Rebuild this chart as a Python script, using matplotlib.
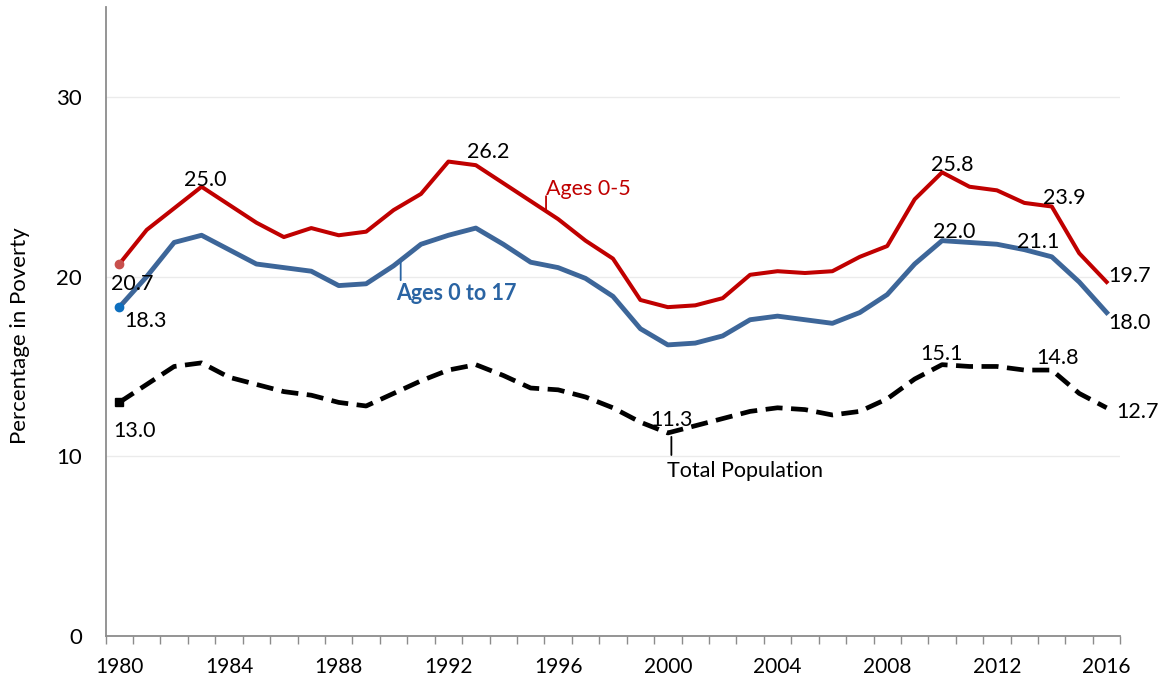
import numpy as np
import matplotlib.pyplot as plt

years = list(range(1980, 2017))
ages_0_5 = [20.7, 22.6, 23.8, 25.0, 24.0, 23.0, 22.2, 22.7, 22.3, 22.5,
            23.7, 24.6, 26.4, 26.2, 25.2, 24.2, 23.2, 22.0, 21.0, 18.7,
            18.3, 18.4, 18.8, 20.1, 20.3, 20.2, 20.3, 21.1, 21.7, 24.3,
            25.8, 25.0, 24.8, 24.1, 23.9, 21.3, 19.7]
ages_0_17 = [18.3, 20.0, 21.9, 22.3, 21.5, 20.7, 20.5, 20.3, 19.5, 19.6,
             20.6, 21.8, 22.3, 22.7, 21.8, 20.8, 20.5, 19.9, 18.9, 17.1,
             16.2, 16.3, 16.7, 17.6, 17.8, 17.6, 17.4, 18.0, 19.0, 20.7,
             22.0, 21.9, 21.8, 21.5, 21.1, 19.7, 18.0]
total_pop = [13.0, 14.0, 15.0, 15.2, 14.4, 14.0, 13.6, 13.4, 13.0, 12.8,
             13.5, 14.2, 14.8, 15.1, 14.5, 13.8, 13.7, 13.3, 12.7, 11.9,
             11.3, 11.7, 12.1, 12.5, 12.7, 12.6, 12.3, 12.5, 13.2, 14.3,
             15.1, 15.0, 15.0, 14.8, 14.8, 13.5, 12.7]
x_labels = list(range(1980, 2017, 4))
y_ticks = [0, 10, 20, 30]

RED = '#C00000'
BLUE = '#3D6699'
BLUE_TEXT = '#2A64A3'

plt.rcParams['font.family'] = ['Lato', 'DejaVu Sans']

fig = plt.figure(figsize=(11.64, 6.82), dpi=100)
ax = fig.add_axes([0.0907, 0.0674, 0.8718, 0.9223])

# lines
ax.plot(years, ages_0_5, color=RED, lw=2.9, solid_joinstyle='round', zorder=4)
ax.plot(years, ages_0_17, color=BLUE, lw=3.5, solid_joinstyle='round', zorder=3)
ax.plot(years, total_pop, color='black', lw=3.4, dashes=(3.6, 1.8),
        dash_capstyle='butt', zorder=3)

# first-point markers
ax.plot(years[0], ages_0_5[0], 'o', color='#C8504D', ms=6, zorder=5)
ax.plot(years[0], ages_0_17[0], 'o', color='#0E6FBE', ms=6, zorder=5)
ax.plot(years[0], total_pop[0], 's', color='black', ms=6, zorder=5)

FS = 15.5


def label(i, series, text, dx, dy, color='black'):
    ax.annotate(text, xy=(years[i], series[i]), xytext=(dx, dy),
                textcoords='offset pixels', ha='center', va='baseline',
                fontsize=FS, color=color, zorder=6)


# value labels
label(0, ages_0_5, '20.7', 13, -26)
label(0, ages_0_17, '18.3', 26, -20)
label(0, total_pop, '13.0', 15, -35)
label(3, ages_0_5, '25.0', 4, 1)
label(13, ages_0_5, '26.2', 12, 7)
label(30, ages_0_5, '25.8', 10, 1)
label(30, ages_0_17, '22.0', 12, 3)
label(34, ages_0_5, '23.9', 13, 3)
label(34, ages_0_17, '21.1', -14, 9)
label(36, ages_0_5, '19.7', 23, 0)
label(36, ages_0_17, '18.0', 23, -16)
label(30, total_pop, '15.1', -1, 5)
label(34, total_pop, '14.8', 6, 6)
label(36, total_pop, '12.7', 31, -10)
label(20, total_pop, '11.3', 4, 7)


def series_label(xpos, series, text, lead, gap, dx, dy, color, weight='normal'):
    yl = np.interp(xpos, years, series)
    ax.annotate('', xy=(xpos, yl), xytext=(0, lead), textcoords='offset pixels',
                arrowprops=dict(arrowstyle='-', color=color, lw=1.3,
                                shrinkA=0, shrinkB=gap), zorder=6)
    ax.annotate(text, xy=(xpos, yl), xytext=(dx, dy), textcoords='offset pixels',
                ha='left', va='baseline', fontsize=FS, color=color,
                fontweight=weight, zorder=6)


series_label(1995.56, ages_0_5, 'Ages 0-5', 15, 0, 0, 16, RED)
series_label(1990.26, ages_0_17, 'Ages 0 to 17', -20, 1.5, -5, -40, BLUE_TEXT, 'bold')
series_label(2000.13, total_pop, 'Total Population', -23, 3.5, -4, -45, 'black')

# axes styling
ax.set_xlim(1979.5, 2016.5)
ax.set_ylim(0, 35)
ax.set_yticks(y_ticks)
ax.set_xticks(x_labels)
ax.set_xticks(np.arange(1979.5, 2017, 1), minor=True)
ax.tick_params(axis='x', which='major', length=0, pad=15, labelsize=15)
ax.tick_params(axis='x', which='minor', length=6, width=1, color='#8C8C8C')
ax.tick_params(axis='y', length=0, pad=17, labelsize=16)

ax.grid(axis='y', color='#EBEBEB', lw=1)
ax.set_axisbelow(True)
for s in ['top', 'right']:
    ax.spines[s].set_visible(False)
for s in ['left', 'bottom']:
    ax.spines[s].set_color('#8C8C8C')
    ax.spines[s].set_linewidth(1.3)

fig.text(20 / 1164, 1 - 336 / 682, 'Percentage in Poverty', rotation=90,
         ha='center', va='center', fontsize=16)

fig.savefig('out.png', dpi=100)
